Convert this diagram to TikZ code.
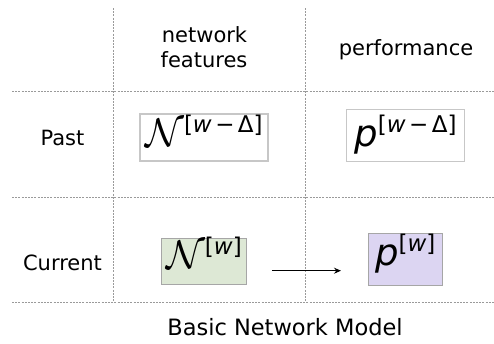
\documentclass[tikz,border=0pt]{standalone}
\usepackage{fix-cm}
\usepackage{fontspec}
\setmainfont{DejaVu Sans}
\usetikzlibrary{arrows.meta}

\definecolor{featfill}{HTML}{DDE8D5}
\definecolor{perffill}{HTML}{DCD5F2}
\definecolor{gridgray}{HTML}{9A9A9A}

% symbols used in the cells
\newcommand{\calN}{{\fontsize{40}{40}\selectfont$\mathcal{N}$}}
\newcommand{\symp}{{\fontsize{37}{37}\selectfont\itshape p}}
\newcommand{\sups}[1]{\raisebox{14pt}{\fontsize{23}{23}\selectfont #1}}
\newcommand{\wminus}{\textit{w}\hspace{0.15em}−\hspace{0.15em}Δ}

\tikzset{
  grid/.style={draw=gridgray, line width=0.8pt, dash pattern=on 2pt off 1.2pt},
  hdr/.style={font=\fontsize{21}{25}\selectfont, inner sep=0pt, anchor=base},
  cellbox/.style={draw, line width=1.2pt, inner sep=0pt, text height=23pt},
  pastbox/.style={cellbox, draw=black!22},
  nowbox/.style={cellbox, draw=black!35},
  arr/.style={-{Stealth[length=7pt,width=6pt]}, line width=1.4pt}
}

\begin{document}
\begin{tikzpicture}[x=1pt, y=-1pt]
\useasboundingbox (0,0) rectangle (494,343);

% table grid
\draw[grid] (113,8) -- (113,302);
\draw[grid] (305,8) -- (305,302);
\draw[grid] (12,91) -- (494,91);
\draw[grid] (12,197) -- (494,197);
\draw[grid] (12,302) -- (494,302);

% column headers
\node[hdr] (hNet) at (204.5,42) {network};
\node[hdr] (hFeat) at (204,67) {features};
\node[hdr] (hPerf) at (406,55) {performance};

% row headers
\node[hdr] (rPast) at (62.5,145) {Past};
\node[hdr] (rCur) at (62.5,270.7) {Current};

% past row
\node[pastbox, minimum width=128pt, minimum height=47pt, text depth=6pt]
  (nPast) at (204,137.5) {\calN\sups{[\wminus]}};
\node[pastbox, minimum width=117.6pt, minimum height=52.4pt, text depth=2pt]
  (pPast) at (405.5,135.5) {\symp\sups{[\wminus]}};

% current row
\node[nowbox, fill=featfill, minimum width=84.3pt, minimum height=46pt, text depth=9.6pt]
  (nNow) at (204,261.3) {\calN\sups{[\textit{w}]}};
\node[nowbox, fill=perffill, minimum width=74pt, minimum height=52.4pt, text depth=12pt]
  (pNow) at (405.3,259.5) {\symp\sups{[\textit{w}]}};

\draw[arr] ([shift={(25pt,-9.4pt)}]nNow.east) -- ([shift={(-26.7pt,-11.2pt)}]pNow.west);

% caption
\node[font=\fontsize{22.5}{27}\selectfont, inner sep=0pt, anchor=base] (title) at (285,335) {Basic Network Model};
\end{tikzpicture}
\end{document}
